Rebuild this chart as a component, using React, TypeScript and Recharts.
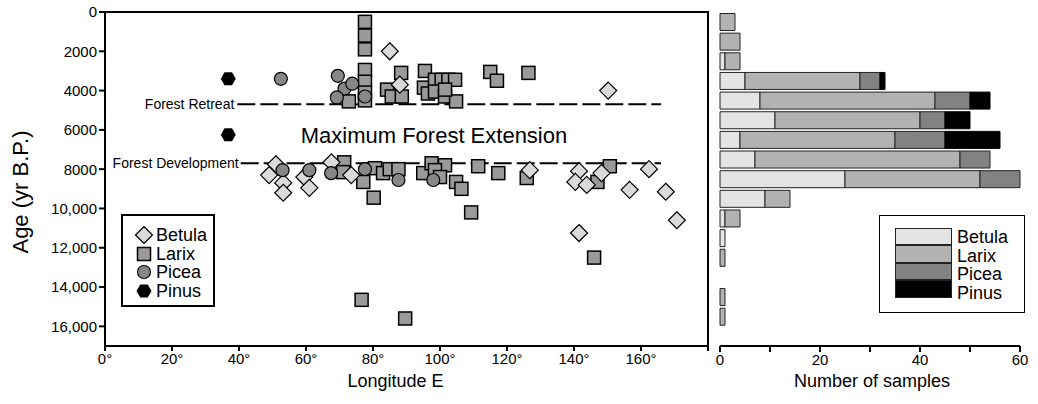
import React from "react";
import {
  ScatterChart, Scatter, XAxis, YAxis, ReferenceLine, ReferenceArea, ReferenceDot, Label, Legend,
  BarChart, Bar,
} from "recharts";

const font = "'Liberation Sans', Arial, Helvetica, sans-serif";

// scatter points: [longitude E, age yr B.P.]
const betulaPts = [
  [51, 7750], [49, 8300], [53.2, 8700], [53.2, 9200], [59.5, 8400], [61, 8950], [67.6, 7650],
  [73.5, 8300], [85, 2000], [88, 3700], [150.2, 4000], [126.8, 8050], [141.5, 8100],
  [140.4, 8650], [143.8, 8800], [148.2, 8200], [162.4, 8000], [156.6, 9050], [167.4, 9150],
  [170.7, 10600], [141.5, 11250],
];
const larixPts = [
  [77.6, 500], [77.6, 1200], [77.6, 1900], [77.6, 2950], [77.6, 3550], [77.6, 4100], [77.6, 4500],
  [72.8, 4550], [88.4, 3100], [84.2, 3950], [85.6, 4300], [88.6, 4300], [95.5, 3000], [95.2, 3850],
  [96.4, 4150], [98.5, 3450], [100.5, 3450], [102.5, 3450], [104.5, 3450], [98.5, 4050],
  [101.5, 4300], [104.8, 4550], [101.5, 3950], [115, 3050], [117, 3500], [126.4, 3100],
  [71.4, 7650], [71.1, 8150], [77.1, 8650], [80.6, 7950], [83, 8200], [85, 8000], [87.6, 8000],
  [80.2, 9450], [95, 8200], [97.5, 7700], [101.5, 7800], [98.5, 8050], [100, 8400], [104.8, 8650],
  [106.4, 9000], [111.4, 7850], [117.4, 8200], [125.9, 8450], [109.3, 10200], [150.7, 7850],
  [147, 8650], [146, 12500], [76.6, 14650], [89.6, 15600],
];
const piceaPts = [
  [52.5, 3400], [69.5, 3250], [71.5, 3900], [73.8, 3650], [69.2, 4350], [77.6, 4300],
  [53, 8050], [61, 8050], [67.5, 8200], [77.6, 8000], [87.6, 8550], [98, 8550],
];
const pinusPts = [[36.8, 3400], [36.8, 6250]];

const lonTicks = [0, 20, 40, 60, 80, 100, 120, 140, 160, 180];
const ageTicks = [0, 2000, 4000, 6000, 8000, 10000, 12000, 14000, 16000];

// histogram, 1000-yr bins from 0 to 17,000
const bins = ["0", "1000", "2000", "3000", "4000", "5000", "6000", "7000", "8000", "9000",
  "10000", "11000", "12000", "13000", "14000", "15000", "16000"];
const betulaCounts = [0, 0, 1, 5, 8, 11, 4, 7, 25, 9, 1, 1, 0, 0, 0, 0, 0];
const larixCounts = [3, 4, 3, 23, 35, 29, 31, 41, 27, 5, 3, 0, 1, 0, 1, 1, 0];
const piceaCounts = [0, 0, 0, 4, 7, 5, 10, 6, 8, 0, 0, 0, 0, 0, 0, 0, 0];
const pinusCounts = [0, 0, 0, 1, 4, 5, 11, 0, 0, 0, 0, 0, 0, 0, 0, 0, 0];
const countTicks = [0, 10, 20, 30, 40, 50, 60];

const C = {
  betula: "#dadada", larix: "#9a9a9a", picea: "#878787", pinus: "#000",
  hBetula: "#e4e4e4", hLarix: "#b2b2b2", hPicea: "#828282", hPinus: "#000",
};

const toPts = (a: number[][]) => a.map(([lon, age]) => ({ lon, age }));
const histData = bins.map((bin, i) => ({
  bin, Betula: betulaCounts[i], Larix: larixCounts[i], Picea: piceaCounts[i], Pinus: pinusCounts[i],
}));

const Diamond = ({ cx, cy }: any) => {
  const r = 8.5;
  return <polygon points={`${cx},${cy - r} ${cx + r},${cy} ${cx},${cy + r} ${cx - r},${cy}`} fill={C.betula} stroke="#000" strokeWidth={1.2} />;
};
const Square = ({ cx, cy }: any) => (
  <rect x={cx - 6.5} y={cy - 6.5} width={13} height={13} fill={C.larix} stroke="#000" strokeWidth={1.5} />
);
const Circ = ({ cx, cy }: any) => <circle cx={cx} cy={cy} r={6.5} fill={C.picea} stroke="#000" strokeWidth={1.2} />;
const Hex = ({ cx, cy }: any) => {
  const w = 7.5, h = 6.5;
  return <polygon points={`${cx - w},${cy} ${cx - w / 2},${cy - h} ${cx + w / 2},${cy - h} ${cx + w},${cy} ${cx + w / 2},${cy + h} ${cx - w / 2},${cy + h}`} fill={C.pinus} />;
};

const legendItems = [
  { name: "Betula", Icon: Diamond }, { name: "Larix", Icon: Square },
  { name: "Picea", Icon: Circ }, { name: "Pinus", Icon: Hex },
];

function ScatterLegend() {
  return (
    <div style={{ width: 94, height: 93, border: "2px solid #000", background: "#fff", fontFamily: font, fontSize: 18, lineHeight: "18.5px", paddingTop: 10, boxSizing: "border-box" }}>
      {legendItems.map(({ name, Icon }) => (
        <div key={name} style={{ display: "flex", alignItems: "center", height: 18.5 }}>
          <svg width={32} height={18} style={{ flex: "none" }}><Icon cx={21} cy={9} /></svg>
          <span style={{ marginLeft: 1 }}>{name}</span>
        </div>
      ))}
    </div>
  );
}

function HistLegend() {
  const cols = [C.hBetula, C.hLarix, C.hPicea, C.hPinus];
  return (
    <div style={{ width: 146, height: 98, border: "1.5px solid #000", background: "#fff", fontFamily: font, fontSize: 18, boxSizing: "border-box", position: "relative" }}>
      <div style={{ position: "absolute", left: 14.5, top: 11.5 }}>
        {cols.map((c, i) => (
          <div key={i} style={{ width: 57, height: 17.5, background: c, border: "1px solid #222", boxSizing: "border-box" }} />
        ))}
      </div>
      <div style={{ position: "absolute", left: 77, top: 12, lineHeight: "18.5px" }}>
        {legendItems.map(({ name }) => (
          <div key={name} style={{ height: 18.5 }}>{name}</div>
        ))}
      </div>
    </div>
  );
}

const tickStyle = { fill: "#000", fontSize: 15, fontFamily: font };

export default function App() {
  return (
    <div style={{ position: "absolute", left: 0, top: 0, width: 1038, height: 404, background: "#fff", fontFamily: font }}>
      <div style={{ position: "absolute", left: 0, top: 0 }}>
        <ScatterChart width={720} height={404} margin={{ top: 12, right: 12, bottom: 28, left: 45 }}>
          <XAxis type="number" dataKey="lon" domain={[0, 180]} ticks={lonTicks} tickFormatter={(v: number) => (v === 180 ? "" : `${v}°`)}
            tick={tickStyle} tickSize={5} height={30} stroke="#000" strokeWidth={2} allowDataOverflow>
            <Label content={({ viewBox }: any) => (
              <text x={viewBox.x + viewBox.width / 2 - 11} y={viewBox.y + 41} textAnchor="middle" fontSize={18} fontFamily={font} fill="#000">Longitude E</text>
            )} />
          </XAxis>
          <YAxis type="number" dataKey="age" domain={[0, 17000]} reversed ticks={ageTicks} interval={0}
            tickFormatter={(v: number) => (v >= 10000 ? v.toLocaleString("en-US") : String(v))}
            tick={tickStyle} tickSize={6} width={60} stroke="#000" strokeWidth={2} allowDataOverflow>
            <Label content={({ viewBox }: any) => {
              const x = viewBox.x - 25, y = viewBox.y + viewBox.height / 2 + 13;
              return <text x={x} y={y} transform={`rotate(-90 ${x} ${y})`} textAnchor="middle" dominantBaseline="central" fontSize={22} fontFamily={font} fill="#000">Age (yr B.P.)</text>;
            }} />
          </YAxis>
          <ReferenceArea x1={0} x2={180} y1={0} y2={17000} fill="none" stroke="#000" strokeWidth={2} />
          <ReferenceLine segment={[{ x: 39.5, y: 4700 }, { x: 166, y: 4700 }]} stroke="#000" strokeWidth={2} strokeDasharray="18 5">
            <Label value="Forest Retreat" position="left" offset={3} fontSize={14} fontFamily={font} fill="#000" />
          </ReferenceLine>
          <ReferenceLine segment={[{ x: 40.5, y: 7700 }, { x: 166, y: 7700 }]} stroke="#000" strokeWidth={2} strokeDasharray="18 5">
            <Label value="Forest Development" position="left" offset={2} fontSize={14} fontFamily={font} fill="#000" />
          </ReferenceLine>
          <ReferenceDot x={98.2} y={6250} r={0} fill="none" stroke="none">
            <Label value="Maximum Forest Extension" position="center" fontSize={22} fontFamily={font} fill="#000" />
          </ReferenceDot>
          <Scatter name="Larix" data={toPts(larixPts)} shape={Square} isAnimationActive={false} />
          <Scatter name="Betula" data={toPts(betulaPts)} shape={Diamond} isAnimationActive={false} />
          <Scatter name="Picea" data={toPts(piceaPts)} shape={Circ} isAnimationActive={false} />
          <Scatter name="Pinus" data={toPts(pinusPts)} shape={Hex} isAnimationActive={false} />
          <Legend layout="horizontal" verticalAlign="middle" align="center" content={() => <ScatterLegend />}
            wrapperStyle={{ position: "absolute", left: 121, top: 214, width: 94, height: 93 }} />
        </ScatterChart>
      </div>
      <div style={{ position: "absolute", left: 700, top: 0 }}>
        <BarChart width={338} height={404} layout="vertical" data={histData} barCategoryGap={1.5}
          margin={{ top: 12, right: 18, bottom: 28, left: 20 }}>
          <XAxis type="number" domain={[0, 60]} ticks={countTicks} interval={0}
            tickFormatter={(v: number) => (v % 20 === 0 ? String(v) : "")}
            tick={tickStyle} tickSize={6} height={30} stroke="#000" strokeWidth={2}>
            <Label content={({ viewBox }: any) => (
              <text x={viewBox.x + viewBox.width / 2 + 2} y={viewBox.y + 41} textAnchor="middle" fontSize={18} fontFamily={font} fill="#000">Number of samples</text>
            )} />
          </XAxis>
          <YAxis type="category" dataKey="bin" width={0} tick={false} tickLine={false} stroke="#000" strokeWidth={2} />
          <Bar dataKey="Betula" stackId="s" fill={C.hBetula} stroke="#222" strokeWidth={1} isAnimationActive={false} />
          <Bar dataKey="Larix" stackId="s" fill={C.hLarix} stroke="#222" strokeWidth={1} isAnimationActive={false} />
          <Bar dataKey="Picea" stackId="s" fill={C.hPicea} stroke="#222" strokeWidth={1} isAnimationActive={false} />
          <Bar dataKey="Pinus" stackId="s" fill={C.hPinus} stroke="#000" strokeWidth={1} isAnimationActive={false} />
          <Legend layout="horizontal" verticalAlign="middle" align="center" content={() => <HistLegend />}
            wrapperStyle={{ position: "absolute", left: 179, top: 215, width: 146, height: 98 }} />
        </BarChart>
      </div>
    </div>
  );
}
